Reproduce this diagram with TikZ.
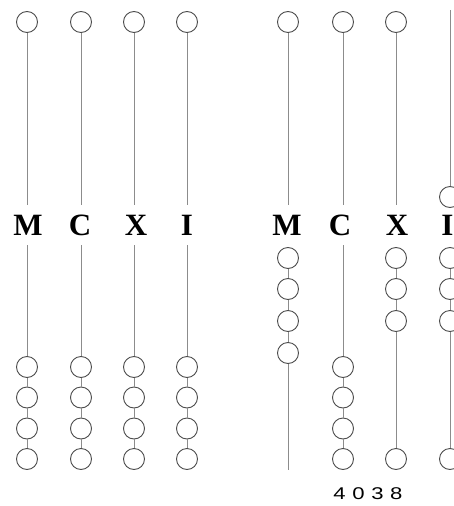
\documentclass[tikz,border=0pt]{standalone}
\usepackage{graphicx}
\usepackage{fontspec}
\setmainfont{Liberation Serif}
\newfontfamily\digitfont[LetterSpace=30]{Liberation Sans}

\begin{document}
\begin{tikzpicture}[x=1pt, y=-1pt,
    bead/.style={circle, draw=black!70, line width=0.9pt, fill=white, minimum size=21pt, inner sep=0pt},
    rod/.style={draw=black!45, line width=1pt},
    place/.style={font=\fontsize{31}{31}\selectfont\bfseries, minimum height=40pt, inner sep=0pt},
    number/.style={font=\fontsize{17}{17}\selectfont\digitfont, inner sep=0pt}]

        \useasboundingbox (0,0) rectangle (454,506);

        % Left abacus: top beads
        \node[bead] (lm0) at (27,22) {};
        \node[bead] (lc0) at (81,22) {};
        \node[bead] (lx0) at (134,22) {};
        \node[bead] (li0) at (187,22) {};

        % Left abacus: place labels
        \node[place] (lM) at (28,225) {M};
        \node[place] (lC) at (80,225) {C};
        \node[place] (lX) at (136,225) {X};
        \node[place] (lI) at (187,225) {I};

        % Left abacus: lower beads, all at the bottom
        \node[bead] (lm1) at (27,367) {};
        \node[bead] (lm2) at (27,397.5) {};
        \node[bead] (lm3) at (27,428.5) {};
        \node[bead] (lm4) at (27,459) {};
        \node[bead] (lc1) at (81,367) {};
        \node[bead] (lc2) at (81,397.5) {};
        \node[bead] (lc3) at (81,428.5) {};
        \node[bead] (lc4) at (81,459) {};
        \node[bead] (lx1) at (134,367) {};
        \node[bead] (lx2) at (134,397.5) {};
        \node[bead] (lx3) at (134,428.5) {};
        \node[bead] (lx4) at (134,459) {};
        \node[bead] (li1) at (187,367) {};
        \node[bead] (li2) at (187,397.5) {};
        \node[bead] (li3) at (187,428.5) {};
        \node[bead] (li4) at (187,459) {};

        % Left abacus: rods
        \draw[rod] (lm0) -- (lm0 |- lM.north);
        \draw[rod] (lm0 |- lM.south) -- (lm1) -- (lm2) -- (lm3) -- (lm4);
        \draw[rod] (lc0) -- (lc0 |- lC.north);
        \draw[rod] (lc0 |- lC.south) -- (lc1) -- (lc2) -- (lc3) -- (lc4);
        \draw[rod] (lx0) -- (lx0 |- lX.north);
        \draw[rod] (lx0 |- lX.south) -- (lx1) -- (lx2) -- (lx3) -- (lx4);
        \draw[rod] (li0) -- (li0 |- lI.north);
        \draw[rod] (li0 |- lI.south) -- (li1) -- (li2) -- (li3) -- (li4);

        % Right abacus: top beads (the I bead is pushed down)
        \node[bead] (rm0) at (288,22) {};
        \node[bead] (rc0) at (343,22) {};
        \node[bead] (rx0) at (396,22) {};
        \coordinate (ritop) at (450,10);
        \node[bead] (ri0) at (450,197) {};

        % Right abacus: place labels
        \node[place] (rM) at (287,225) {M};
        \node[place] (rC) at (340,225) {C};
        \node[place] (rX) at (397,225) {X};
        \node[place] (rI) at (447.5,225) {I};

        % Right abacus: lower beads
        \node[bead] (rm1) at (288,258) {};
        \node[bead] (rm2) at (288,289) {};
        \node[bead] (rm3) at (288,321) {};
        \node[bead] (rm4) at (288,353) {};
        \coordinate (rmend) at (288,470);
        \node[bead] (rc1) at (343,367) {};
        \node[bead] (rc2) at (343,397.5) {};
        \node[bead] (rc3) at (343,428.5) {};
        \node[bead] (rc4) at (343,459) {};
        \node[bead] (rx1) at (396,258) {};
        \node[bead] (rx2) at (396,289) {};
        \node[bead] (rx3) at (396,321) {};
        \node[bead] (rx4) at (396,459) {};
        \node[bead] (ri1) at (450,258) {};
        \node[bead] (ri2) at (450,289) {};
        \node[bead] (ri3) at (450,321) {};
        \node[bead] (ri4) at (450,459) {};

        % Right abacus: rods
        \draw[rod] (rm0) -- (rm0 |- rM.north);
        \draw[rod] (rm1) -- (rm2) -- (rm3) -- (rm4) -- (rmend);
        \draw[rod] (rc0) -- (rc0 |- rC.north);
        \draw[rod] (rc0 |- rC.south) -- (rc1) -- (rc2) -- (rc3) -- (rc4);
        \draw[rod] (rx0) -- (rx0 |- rX.north);
        \draw[rod] (rx1) -- (rx2) -- (rx3) -- (rx4);
        \draw[rod] (ritop) -- (ri0);
        \draw[rod] (ri1) -- (ri2) -- (ri3) -- (ri4);

        % Value shown
        \node[number] (total) at (368,494) {\scalebox{1.3}[1]{4038}};

    \end{tikzpicture}
\end{document}
